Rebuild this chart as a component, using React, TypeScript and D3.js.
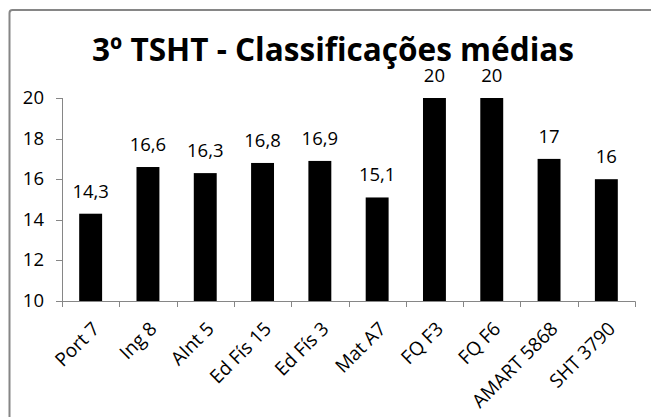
import React from "react";
import * as d3 from "d3";

const categories = ["Port 7", "Ing 8", "AInt 5", "Ed Fís 15", "Ed Fís 3", "Mat A7", "FQ F3", "FQ F6", "AMART 5868", "SHT 3790"];
const values = [14.3, 16.6, 16.3, 16.8, 16.9, 15.1, 20, 20, 17, 16];
const valueLabels = ["14,3", "16,6", "16,3", "16,8", "16,9", "15,1", "20", "20", "17", "16"];
const yTicks = [10, 12, 14, 16, 18, 20];
const title = "3º TSHT - Classificações médias";

const W = 651;
const H = 417;
const FONT = "'Open Sans', 'Noto Sans', sans-serif";
const FS = 18.5;

export default function App() {
  const x = d3.scaleBand<string>().domain(categories).range([62, 635]).paddingInner(0.6).paddingOuter(0.3);
  const y = d3.scaleLinear().domain([10, 20]).range([301, 98]);
  const axisColor = "#868686";
  const step = x.step();

  return (
    <svg width={W} height={H} style={{ position: "absolute", left: 0, top: 0 }}>
      <rect x={0} y={0} width={W} height={H} fill="#fff" />
      <rect x={9.5} y={10} width={W + 20} height={H + 20} fill="#fff" stroke={axisColor} strokeWidth={2} rx={3} />
      <text x={333} y={61} textAnchor="middle" fontFamily={FONT} fontWeight="bold" fontSize={33} textLength={482} lengthAdjust="spacingAndGlyphs" fill="#000">
        {title}
      </text>
      {/* y axis */}
      <line x1={62.5} x2={62.5} y1={y(20)} y2={y(10)} stroke={axisColor} />
      {yTicks.map((t) => (
        <g key={t}>
          <line x1={56} x2={62.5} y1={Math.round(y(t)) + 0.5} y2={Math.round(y(t)) + 0.5} stroke={axisColor} />
          <text x={44} y={y(t) + 6} textAnchor="end" fontFamily={FONT} fontSize={FS} fill="#000">
            {t}
          </text>
        </g>
      ))}
      {/* bars */}
      {categories.map((c, i) => (
        <rect key={c} x={x(c)} y={y(values[i])} width={x.bandwidth()} height={y(10) - y(values[i])} fill="#000" />
      ))}
      {/* x axis */}
      <line x1={62} x2={635.5} y1={301.5} y2={301.5} stroke={axisColor} />
      {d3.range(categories.length + 1).map((i) => {
        const px = Math.round(62 + i * step) + 0.5;
        return <line key={i} x1={px} x2={px} y1={301.5} y2={307} stroke={axisColor} />;
      })}
      {/* value labels */}
      {categories.map((c, i) => (
        <text key={c} x={(x(c) || 0) + x.bandwidth() / 2} y={y(values[i]) - 16} textAnchor="middle" fontFamily={FONT} fontSize={FS} fill="#000">
          {valueLabels[i]}
        </text>
      ))}
      {/* category labels */}
      {categories.map((c) => {
        const cx = (x(c) || 0) + x.bandwidth() / 2 + 10;
        const cy = 330;
        return (
          <text key={c} x={cx} y={cy} transform={`rotate(-45, ${cx}, ${cy})`} textAnchor="end" fontFamily={FONT} fontSize={19} fill="#000">
            {c}
          </text>
        );
      })}
    </svg>
  );
}
